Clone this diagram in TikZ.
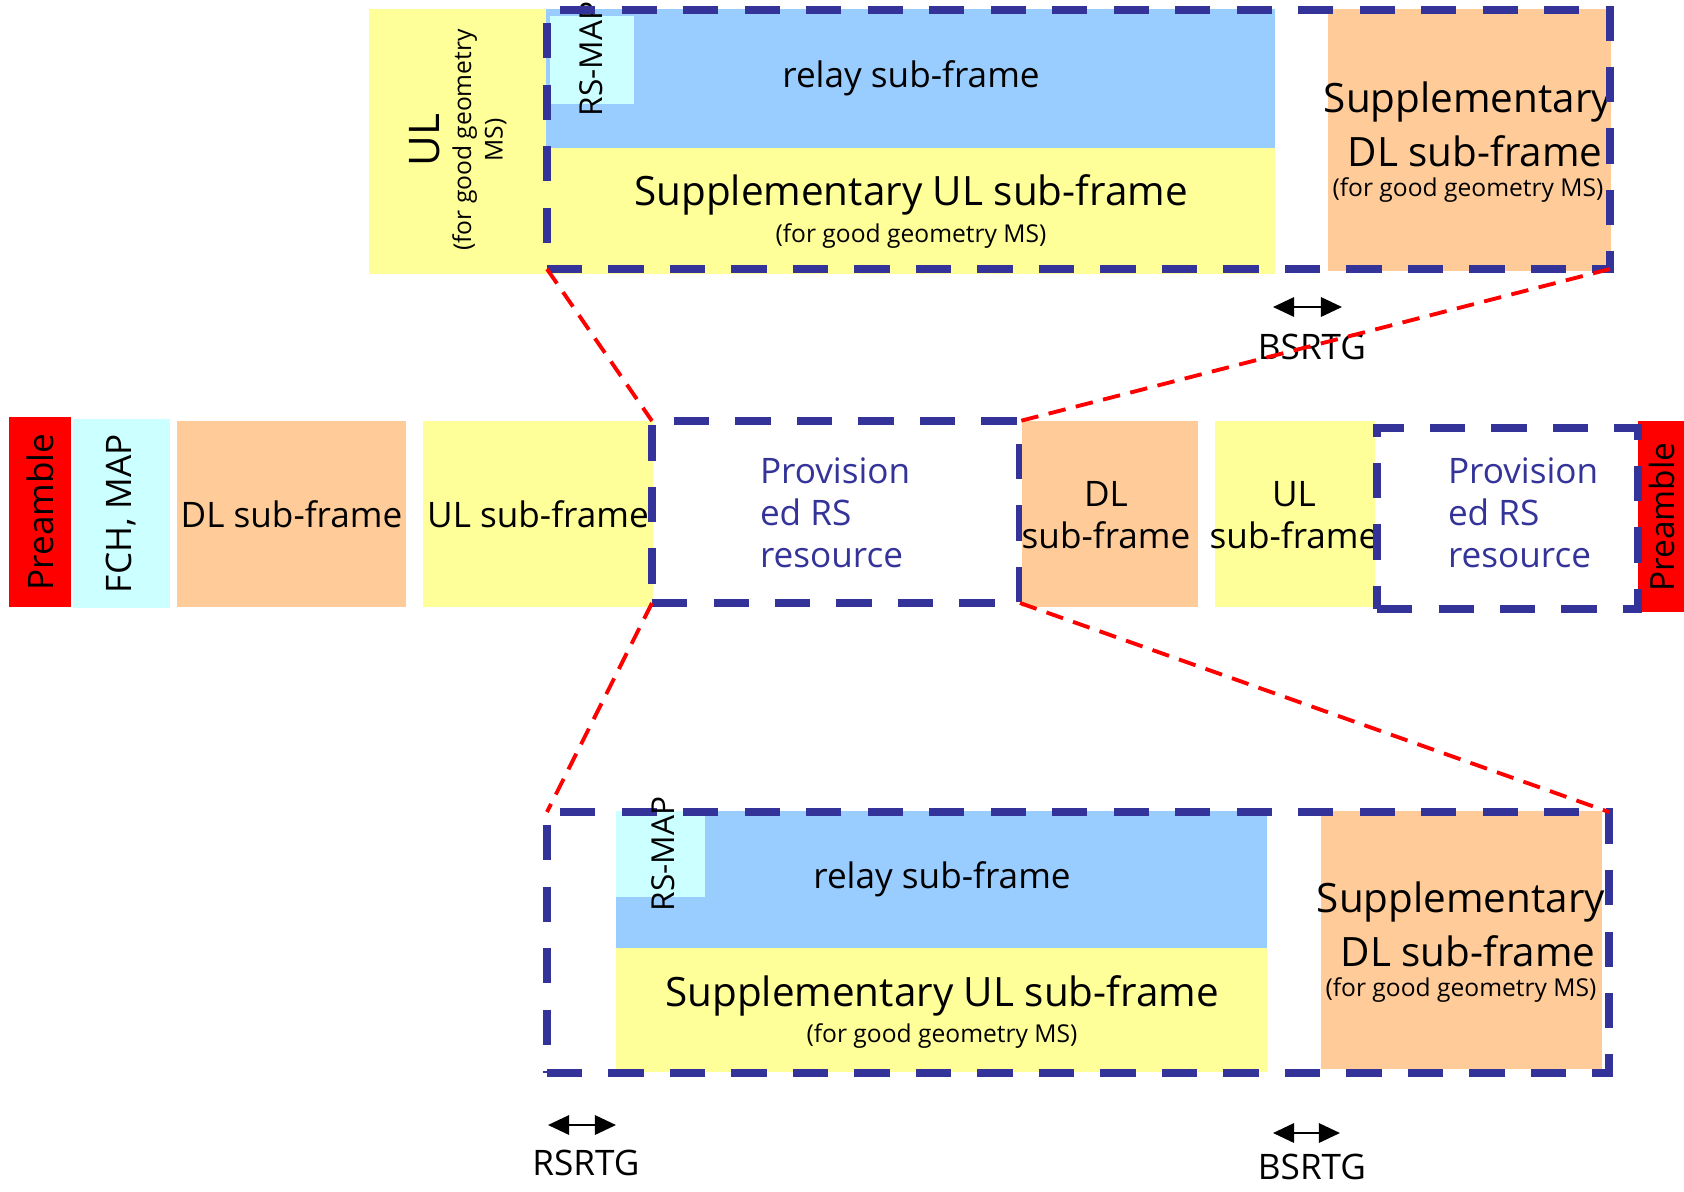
\documentclass[tikz,border=0pt]{standalone}
\usepackage{fontspec}
\setmainfont{Open Sans}
\usetikzlibrary{fit,arrows.meta}
\definecolor{ulyellow}{HTML}{FFFF99}
\definecolor{dlorange}{HTML}{FFCC99}
\definecolor{mapcyan}{HTML}{CCFFFF}
\definecolor{relayblue}{HTML}{99CCFF}
\definecolor{rsblue}{HTML}{333399}

\begin{document}
\begin{tikzpicture}
	[x=0.02cm, y=-0.02cm,
	every node/.style={inner sep=0pt, outer sep=0pt},
	blk/.style={fill=#1},
	dashbox/.style={draw=rsblue, line width=4.5pt, dash pattern=on 20pt off 15pt},
	zoomline/.style={draw=red, line width=2.2pt, dash pattern=on 10pt off 6pt},
	gap/.style={{Triangle[length=12pt,width=11pt]}-{Triangle[length=12pt,width=11pt]}, line width=1.3pt},
	big/.style={font=\fontsize{23}{27}\selectfont, align=center},
	mid/.style={font=\fontsize{20}{24}\selectfont, align=center},
	small/.style={font=\fontsize{14}{17}\selectfont, align=center}]
	\useasboundingbox (0,0) rectangle (1684,1191);

	% top zoom
	\node[blk=ulyellow, fit={(369,9) (546,274)}] (ulgood) {};
	\node[blk=relayblue, fit={(546,9) (1275,148)}] (relay1) {};
	\node[blk=mapcyan, fit={(550,16) (634,104)}] (rsmap1) {};
	\node[blk=ulyellow, fit={(546,148) (1275,274)}] (supul1) {};
	\node[blk=dlorange, fit={(1328,9) (1611,271)}] (supdl1) {};
	\node[rotate=90, align=center, font=\fontsize{14}{18}\selectfont] (ulgoodtxt) at (458,140)
		{{\fontsize{24}{28}\selectfont UL}\\(for good geometry\\MS)};
	\node[rotate=90, font=\fontsize{18}{20}\selectfont] (rsmaptxt1) at (591,59) {RS-MAP};
	\node[mid] (relaytxt1) at (911,78) {relay sub-frame};
	\node[big] (supultxt1) at (911,195) {Supplementary UL sub-frame};
	\node[small] (supulms1) at (911,236) {(for good geometry MS)};
	\node[big] (supdltxt1) at (1468,102) {Supplementary};
	\node[big] (supdltxt1b) at (1475,151) {DL sub-frame};
	\node[small] (supdlms1) at (1468,190) {(for good geometry MS)};
	\node[dashbox, fit={(547,10) (1610,269)}] (zoomtop) {};
	\coordinate (bs1a) at (1273,307);
	\coordinate (bs1b) at (1342,307);
	\draw[gap] (bs1a) -- (bs1b);
	\node[mid] (bsrtg1) at (1312,347) {BSRTG};

	% frame
	\node[blk=red, fit={(9,417) (71,607)}] (pre1) {};
	\node[mid, rotate=90] (pre1txt) at (pre1) {Preamble};
	\node[blk=mapcyan, fit={(73,419) (170,608)}] (fch) {};
	\node[mid, rotate=90] (fchtxt) at (fch) {FCH, MAP};
	\node[blk=dlorange, fit={(177,421) (406,607)}] (dl1) {};
	\node[mid] (dl1txt) at (dl1) {DL sub-frame};
	\node[blk=ulyellow, fit={(423,421) (653,607)}] (ul1) {};
	\node[mid] (ul1txt) at (ul1) {UL sub-frame};
	\node[dashbox, fit={(652,421) (1020,603)}] (prov1) {};
	\node[mid, align=left, anchor=west, text=rsblue] (prov1txt) at (760,513) {Provision\\ed RS\\resource};
	\node[blk=dlorange, fit={(1022,421) (1198,607)}] (dl2) {};
	\node[mid] (dl2txt) at (1106,515) {DL\\sub-frame};
	\node[blk=ulyellow, fit={(1215,421) (1375,607)}] (ul2) {};
	\node[mid] (ul2txt) at (1294,515) {UL\\sub-frame};
	\node[blk=red, fit={(1638,421) (1684,612)}] (pre2) {};
	\node[rotate=90, font=\fontsize{19}{22}\selectfont] (pre2txt) at (1662,517) {Preamble};
	\node[dashbox, fit={(1377,428) (1638,609)}] (prov2) {};
	\node[mid, align=left, anchor=west, text=rsblue] (prov2txt) at (1448,513) {Provision\\ed RS\\resource};

	% bottom zoom
	\node[blk=relayblue, fit={(616,811) (1267,948)}] (relay2) {};
	\node[blk=mapcyan, fit={(616,811) (705,897)}] (rsmap2) {};
	\node[blk=ulyellow, fit={(616,948) (1267,1072)}] (supul2) {};
	\node[blk=dlorange, fit={(1321,811) (1602,1069)}] (supdl2) {};
	\node[mid] (relaytxt2) at (942,879) {relay sub-frame};
	\node[big] (supultxt2) at (942,996) {Supplementary UL sub-frame};
	\node[small] (supulms2) at (942,1036) {(for good geometry MS)};
	\node[big] (supdltxt2) at (1461,902) {Supplementary};
	\node[big] (supdltxt2b) at (1468,951) {DL sub-frame};
	\node[small] (supdlms2) at (1461,990) {(for good geometry MS)};
	\node[dashbox, fit={(547,812) (1609,1073)}] (zoombot) {};
	\node[rotate=90, font=\fontsize{18}{20}\selectfont] (rsmaptxt2) at (663,854) {RS-MAP};
	\coordinate (rsa) at (548,1125);
	\coordinate (rsb) at (616,1125);
	\draw[gap] (rsa) -- (rsb);
	\node[mid] (rsrtg) at (586,1163) {RSRTG};
	\coordinate (bs2a) at (1273,1133);
	\coordinate (bs2b) at (1340,1133);
	\draw[gap] (bs2a) -- (bs2b);
	\node[mid] (bsrtg2) at (1312,1167) {BSRTG};

	% zoom lines
	\draw[zoomline] (zoomtop.south west) -- (prov1.north west);
	\draw[zoomline] (zoomtop.south east) -- (prov1.north east);
	\draw[zoomline] (prov1.south west) -- (zoombot.north west);
	\draw[zoomline] (prov1.south east) -- (zoombot.north east);
\end{tikzpicture}
\end{document}
